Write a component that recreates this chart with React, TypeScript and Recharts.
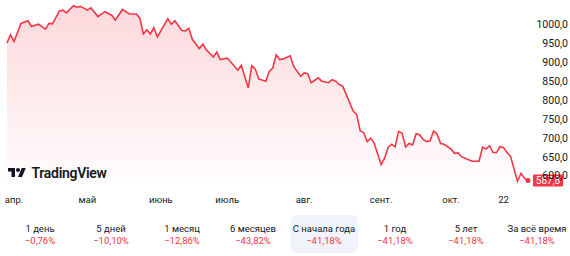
import {
  AreaChart,
  Area,
  XAxis,
  YAxis,
  ReferenceLine,
} from "recharts";

// trading-day index since the start of the range
const days = [
  0, 1, 2, 4, 6, 7, 9, 11, 12, 13, 15, 16, 17, 19, 20, 21, 23, 24, 26, 28,
  30, 31, 33, 35, 37, 38, 39, 40, 41, 42, 43, 46, 47, 48, 50, 51, 52, 53, 55,
  56, 57, 59, 60, 61, 63, 64, 66, 67, 69, 70, 71, 72, 74, 75, 76, 77, 78, 79,
  81, 82, 84, 85, 86, 87, 89, 90, 92, 93, 94, 95, 96, 97, 99, 100, 101, 102,
  103, 104, 105, 106, 107, 108, 109, 110, 111, 112, 113, 114, 115, 116, 117,
  118, 119, 120, 121, 122, 123, 124, 125, 127, 128, 129, 130, 132, 133, 135,
  136, 137, 138, 139, 140, 141, 142, 143, 144, 146, 147, 148, 149,
];

const prices = [
  952, 974, 956, 1004, 1011, 996, 1002, 989, 1004, 1003, 1037, 1039, 1032,
  1051, 1047, 1049, 1039, 1045, 1022, 1035, 1025, 1013, 1041, 1029, 1029,
  1018, 976, 987, 976, 993, 968, 1016, 1002, 1011, 985, 984, 991, 962, 937,
  949, 934, 915, 928, 908, 912, 902, 880, 893, 833, 892, 883, 857, 851, 877,
  886, 921, 908, 910, 918, 890, 864, 873, 871, 847, 860, 851, 847, 855, 851,
  842, 838, 816, 772, 763, 719, 715, 691, 700, 687, 658, 630, 647, 676, 684,
  677, 718, 713, 677, 686, 682, 712, 709, 697, 691, 693, 719, 711, 686, 684,
  671, 660, 661, 651, 643, 639, 639, 676, 671, 680, 662, 662, 678, 675, 662,
  652, 586, 607, 594, 587.8,
];

const monthTicks = [2, 23, 44, 63, 85, 107, 127, 142];
const monthLabels = ["апр.", "май", "июнь", "июль", "авг.", "сент.", "окт.", "22"];

const priceTicks = [600, 650, 700, 750, 800, 850, 900, 950, 1000];

const periodLabels = [
  "1 день",
  "5 дней",
  "1 месяц",
  "6 месяцев",
  "С начала года",
  "1 год",
  "5 лет",
  "За всё время",
];
const periodChanges = [-0.76, -10.1, -12.86, -43.82, -41.18, -41.18, -41.18, -41.18];
const activePeriod = 4;

const data = days.map((d, i) => ({ day: d, price: prices[i] }));
const lastPrice = prices[prices.length - 1];

const RED = "#f23645";
const TEXT = "#131722";
const FONT = "Roboto, 'Noto Sans', sans-serif";

const fmt = (v: number, digits = 1) => v.toFixed(digits).replace(".", ",");

function MonthTick({ x, y, payload }: any) {
  const idx = monthTicks.indexOf(payload.value);
  return (
    <text
      x={x}
      y={y + 6}
      textAnchor="middle"
      fontSize={9.5}
      fill={TEXT}
      fontFamily={FONT}
      dominantBaseline="central"
    >
      {monthLabels[idx] ?? ""}
    </text>
  );
}

function PriceTick({ y, payload }: any) {
  return (
    <text
      x={568}
      y={y}
      textAnchor="end"
      fontSize={10.5}
      fill={TEXT}
      fontFamily={FONT}
      dominantBaseline="central"
    >
      {fmt(payload.value)}
    </text>
  );
}

function PriceBadge({ viewBox }: any) {
  const left = viewBox.x + viewBox.width + 5;
  return (
    <g>
      <rect x={left} y={viewBox.y - 6} width={30} height={12} fill={RED} rx={1} />
      <text
        x={left + 15}
        y={viewBox.y}
        textAnchor="middle"
        dominantBaseline="central"
        fontSize={10}
        fill="#fff"
        fontFamily={FONT}
      >
        {fmt(lastPrice)}
      </text>
    </g>
  );
}

function EndDot(props: any) {
  const { cx, cy, index } = props;
  if (index !== data.length - 1) return <g key={index} />;
  return <circle key={index} cx={cx} cy={cy} r={2.5} fill={RED} />;
}

function Logo() {
  return (
    <svg
      width={110}
      height={16}
      style={{ position: "absolute", left: 8, top: 165 }}
    >
      <g transform="translate(0,1) scale(0.5)" fill={TEXT}>
        <path d="M14 22H7V11H0V4h14v18z" />
        <circle cx={20} cy={8} r={4} />
        <path d="M28 22h-8l7.5-18h8L28 22z" />
      </g>
      <text
        x={23.5}
        y={12.5}
        fontSize={14}
        fontWeight={600}
        fill={TEXT}
        fontFamily={FONT}
        letterSpacing={-0.3}
      >
        TradingView
      </text>
    </svg>
  );
}

export default function App() {
  return (
    <div
      style={{
        position: "absolute",
        left: 0,
        top: 0,
        width: 570,
        height: 256,
        background: "#fff",
        fontFamily: FONT,
      }}
    >
      <AreaChart
        width={570}
        height={205}
        data={data}
        margin={{ top: 0, right: 0, left: 7, bottom: 0 }}
      >
        <defs>
          <linearGradient id="fillRed" x1="0" y1="0" x2="0" y2="1">
            <stop offset="0%" stopColor={RED} stopOpacity={0.32} />
            <stop offset="100%" stopColor={RED} stopOpacity={0.02} />
          </linearGradient>
        </defs>
        <XAxis
          dataKey="day"
          type="number"
          domain={[0, 149]}
          ticks={monthTicks}
          tick={<MonthTick />}
          axisLine={false}
          tickLine={false}
          height={20}
          interval={0}
        />
        <YAxis
          orientation="right"
          domain={[576, 1066]}
          ticks={priceTicks}
          tick={<PriceTick />}
          axisLine={false}
          tickLine={false}
          width={42}
          interval={0}
        />
        <Area
          type="linear"
          dataKey="price"
          stroke={RED}
          strokeWidth={1.6}
          fill="url(#fillRed)"
          dot={<EndDot />}
          activeDot={false}
          isAnimationActive={false}
        />
        <ReferenceLine
          y={lastPrice}
          stroke="none"
          ifOverflow="visible"
          label={<PriceBadge />}
        />
      </AreaChart>
      <Logo />
      <div
        style={{
          position: "absolute",
          left: 4.5,
          top: 215,
          display: "flex",
        }}
      >
        {periodLabels.map((label, i) => (
          <div
            key={label}
            style={{
              width: 71,
              height: 38,
              display: "flex",
              flexDirection: "column",
              alignItems: "center",
              justifyContent: "center",
              position: "relative",
            }}
          >
            {i === activePeriod && (
              <div
                style={{
                  position: "absolute",
                  left: 2,
                  right: 2,
                  top: 0,
                  bottom: 0,
                  background: "#f0f3fa",
                  borderRadius: 6,
                }}
              />
            )}
            <div
              style={{
                position: "relative",
                fontSize: 9.5,
                color: TEXT,
                lineHeight: "12px",
                marginTop: 2,
                whiteSpace: "nowrap",
              }}
            >
              {label}
            </div>
            <div
              style={{
                position: "relative",
                fontSize: 9.5,
                color: RED,
                lineHeight: "12px",
                whiteSpace: "nowrap",
              }}
            >
              {"\u2212" + fmt(Math.abs(periodChanges[i]), 2) + "%"}
            </div>
          </div>
        ))}
      </div>
    </div>
  );
}
